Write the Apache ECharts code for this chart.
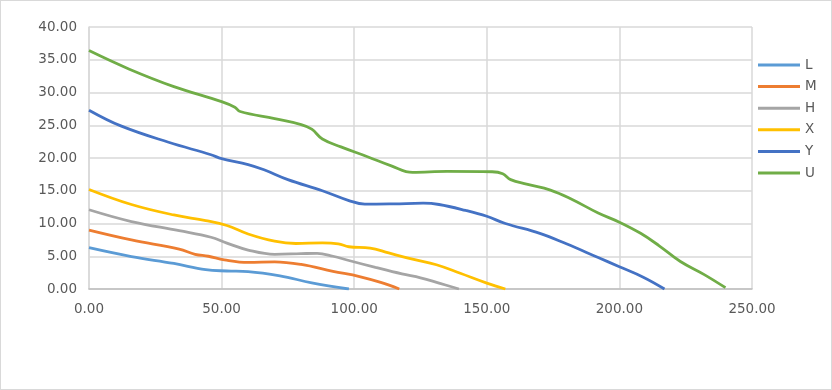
<!DOCTYPE html>
<html>
<head>
<meta charset="utf-8">
<script src="https://cdn.jsdelivr.net/npm/echarts@6/dist/echarts.min.js"></script>
<style>
html,body{margin:0;padding:0;background:#fff;}
#c{width:832px;height:390px;box-sizing:border-box;border:1px solid #d9d9d9;}
</style>
</head>
<body>
<div id="c"></div>
<script>
const seriesNames = ['L','M','H','X','Y','U'];
const colors = ['#5B9BD5','#ED7D31','#A5A5A5','#FFC000','#4472C4','#70AD47'];
const xTicks = [0,50,100,150,200,250];
const yTicks = [0,5,10,15,20,25,30,35,40];

const dataL = [[0,6.3],[16,4.95],[32,3.9],[44,2.95],[52,2.75],[60,2.65],[72,2.0],[84,0.95],[98,0]];
const dataM = [[0,9.0],[16,7.5],[34,6.1],[40,5.3],[45,5.0],[51,4.45],[60,4.05],[70,4.15],[80,3.75],[92,2.7],[102,1.9],[110,1.0],[117,0]];
const dataH = [[0,12.1],[16,10.3],[34,8.9],[46,7.9],[52,7.0],[60,5.95],[70,5.3],[80,5.4],[86,5.45],[92,5.0],[98,4.35],[108,3.3],[118,2.3],[125,1.7],[132,0.9],[139.5,0]];
const dataX = [[0,15.2],[16,12.9],[32,11.3],[44,10.45],[52,9.7],[60,8.4],[70,7.3],[78,6.95],[88,7.05],[94,6.9],[98,6.45],[106,6.25],[113,5.5],[122,4.55],[131,3.7],[140,2.4],[150,0.9],[157,0]];
const dataY = [[0,27.3],[12,24.9],[30,22.4],[46,20.5],[50,19.9],[60,19.0],[66,18.2],[75,16.7],[88,15.0],[98,13.5],[104,12.95],[115,13.0],[126,13.1],[132,12.9],[142,12.0],[150,11.1],[157,10.0],[170,8.5],[180,6.9],[192,4.8],[200,3.4],[209,1.8],[217,0]];
const dataU = [[0,36.4],[15,33.6],[32,30.9],[50,28.6],[55,27.75],[57,27.1],[70,26.0],[80,25.1],[84,24.4],[88,22.9],[95,21.7],[105,20.2],[114,18.8],[122,17.8],[135,17.95],[152,17.9],[156,17.6],[159,16.7],[165,16.0],[174,15.1],[182,13.7],[192,11.6],[200,10.2],[208,8.5],[215,6.6],[223,4.2],[232,2.2],[240,0.2]];

const allData = [dataL,dataM,dataH,dataX,dataY,dataU];

const chart = echarts.init(document.getElementById('c'), null, {renderer:'canvas'});
const fontFam = 'DejaVu Sans';
chart.setOption({
  animation:false,
  backgroundColor:'#fff',
  grid:{left:88,right:79,top:26,bottom:100,containLabel:false},
  xAxis:{type:'value',min:xTicks[0],max:xTicks[xTicks.length-1],interval:50,
    axisLine:{show:true,lineStyle:{color:'#bfbfbf',width:1.5}},
    axisTick:{show:false},
    splitLine:{show:true,lineStyle:{color:'#d9d9d9',width:1.5}},
    axisLabel:{formatter:v=>v.toFixed(2),color:'#595959',fontFamily:fontFam,fontSize:13.5,margin:13}},
  yAxis:{type:'value',min:yTicks[0],max:yTicks[yTicks.length-1],interval:5,
    axisLine:{show:true,lineStyle:{color:'#d9d9d9',width:1.5}},
    axisTick:{show:false},
    splitLine:{show:true,lineStyle:{color:'#d9d9d9',width:1.5}},
    axisLabel:{formatter:v=>v.toFixed(2),color:'#595959',fontFamily:fontFam,fontSize:13.5,margin:12}},
  legend:{orient:'vertical',left:757,top:57,padding:0,icon:'rect',itemWidth:42,itemHeight:3,itemGap:7.6,
    textStyle:{color:'#595959',fontFamily:fontFam,fontSize:13.5,lineHeight:14},
    data:seriesNames},
  series: seriesNames.map((n,i)=>({
    name:n,type:'line',data:allData[i],smooth:0.4,showSymbol:false,
    color:colors[i],lineStyle:{width:2.8,color:colors[i]}
  }))
});
</script>
</body>
</html>
